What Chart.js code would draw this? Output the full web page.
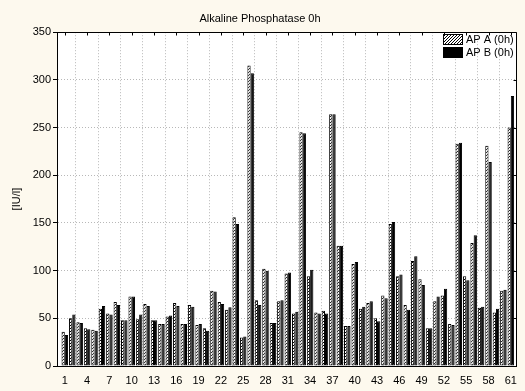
<!DOCTYPE html>
<html>
<head>
<meta charset="utf-8">
<script src="https://cdn.jsdelivr.net/npm/chart.js@4.4.1/dist/chart.umd.min.js"></script>
<style>
  html, body { margin: 0; padding: 0; background: #fdf9ee; }
  #wrap { width: 525px; height: 391px; }
</style>
</head>
<body>
<div id="wrap"><canvas id="chart" width="525" height="391"></canvas></div>
<script>
// ── Data ─────────────────────────────────────────────────────────────────────
const categories = [
  1, 2, 3, 4, 5, 6, 7, 8, 9, 10, 11, 12, 13, 14, 15, 16, 17, 18, 19, 20,
  21, 22, 23, 24, 25, 26, 27, 28, 29, 30, 31, 32, 33, 34, 35, 36, 37, 38, 39, 40,
  41, 42, 43, 44, 45, 46, 47, 48, 49, 50, 51, 52, 53, 54, 55, 56, 57, 58, 59, 60, 61
];
const apA = [
  36, 50, 46, 39.5, 38, 60, 55, 67, 48, 73, 49, 65, 48, 44, 52, 66, 44, 64, 43, 39.5,
  79, 67, 59, 156, 30, 315, 69, 102, 45, 68, 97, 55, 245, 94, 56, 58, 264, 126, 42, 107,
  60, 66, 50, 74, 149, 94, 64, 110, 91, 39.5, 68, 74, 44, 233, 94, 129, 61, 231, 56, 79, 250
];
const apB = [
  32.5, 54, 45, 38.5, 37, 63, 54, 64, 48, 73, 54, 63, 48, 44, 53, 63, 44, 62, 44, 37,
  78, 65, 61.5, 149, 31, 307, 64, 100, 45, 69, 98, 57, 244, 101, 55, 55, 264, 126, 42, 109,
  62, 68, 47, 71, 151, 96, 59, 115, 85, 39.5, 73, 81, 43, 234, 90, 137, 62, 214, 60, 80, 283
];
const xTicks = [1, 4, 7, 10, 13, 16, 19, 22, 25, 28, 31, 34, 37, 40, 43, 46, 49, 52, 55, 58, 61];
const yTicks = [0, 50, 100, 150, 200, 250, 300, 350];

const FONT = { family: "'Liberation Sans', Arial, sans-serif", size: 11, weight: "normal" };
Chart.defaults.font.family = FONT.family;
Chart.defaults.color = "#000";

function makeHatch() {
  const c = document.createElement("canvas");
  c.width = 3;
  c.height = 3;
  const g = c.getContext("2d");
  g.fillStyle = "#fff";
  g.fillRect(0, 0, 3, 3);
  g.strokeStyle = "#000";
  g.lineWidth = 1;
  g.beginPath();
  g.moveTo(0, 3); g.lineTo(3, 0);
  g.moveTo(-1, 1); g.lineTo(1, -1);
  g.moveTo(2, 4); g.lineTo(4, 2);
  g.stroke();
  return g.createPattern(c, "repeat");
}

// white plot area, closed frame with inward ticks, legend inside top-right
const framePlugin = {
  id: "frame",
  beforeDraw(chart) {
    const { ctx, chartArea: a } = chart;
    ctx.save();
    ctx.fillStyle = "#fff";
    ctx.fillRect(a.left, a.top, a.right - a.left, a.bottom - a.top);
    ctx.restore();
  },
  afterDraw(chart) {
    const { ctx, chartArea: a, scales: { x, y } } = chart;
    const px = (v) => Math.round(v) + 0.5;
    ctx.save();
    ctx.strokeStyle = "#000";
    ctx.lineWidth = 1;
    ctx.beginPath();
    ctx.moveTo(px(a.left), px(a.top));
    ctx.lineTo(px(a.right), px(a.top));
    ctx.lineTo(px(a.right), px(a.bottom));
    for (const v of xTicks) {
      const p = px(x.getPixelForValue(v));
      ctx.moveTo(p, px(a.top));
      ctx.lineTo(p, px(a.top) + 3);
    }
    for (const v of yTicks) {
      const p = px(y.getPixelForValue(v));
      ctx.moveTo(px(a.right), p);
      ctx.lineTo(px(a.right) - 3, p);
    }
    ctx.stroke();

    // legend
    ctx.font = `${FONT.size}px ${FONT.family}`;
    ctx.textBaseline = "middle";
    ctx.textAlign = "left";
    chart.data.datasets.forEach((ds, i) => {
      const sx = Math.round(a.right) - 73;
      const sy = Math.round(a.top) + 2 + i * 13;
      ctx.fillStyle = ds.backgroundColor;
      ctx.fillRect(sx, sy, 19, 10);
      ctx.strokeRect(sx + 0.5, sy + 0.5, 19, 10);
      ctx.fillStyle = "#000";
      ctx.fillText(ds.label, sx + 23, sy + 6);
    });
    ctx.restore();
  },
};

const hatch = makeHatch();

new Chart(document.getElementById("chart"), {
  type: "bar",
  data: {
    datasets: [
      {
        label: "AP A (0h)",
        data: categories.map((c, i) => ({ x: c, y: apA[i] })),
        backgroundColor: hatch,
        borderColor: "#000",
        borderWidth: 1,
        borderSkipped: false,
        categoryPercentage: 0.88,
        barPercentage: 1.0,
      },
      {
        label: "AP B (0h)",
        data: categories.map((c, i) => ({ x: c, y: apB[i] })),
        backgroundColor: "#000",
        borderColor: "#000",
        borderWidth: 1,
        borderSkipped: false,
        categoryPercentage: 0.88,
        barPercentage: 1.0,
      },
    ],
  },
  options: {
    responsive: false,
    animation: false,
    layout: { padding: { left: 0, right: 5, top: 0, bottom: 0 } },
    plugins: {
      legend: { display: false },
      tooltip: { enabled: false },
      title: {
        display: true,
        text: "Alkaline Phosphatase 0h",
        color: "#000",
        font: FONT,
        padding: { top: 12, bottom: 7 },
      },
    },
    scales: {
      x: {
        type: "linear",
        min: -0.05,
        max: 61.7,
        offset: false,
        afterBuildTicks: (s) => { s.ticks = xTicks.map((v) => ({ value: v })); },
        afterFit: (s) => { s.height = 25; },
        grid: { color: "#b8b8b8", drawTicks: false },
        border: { display: true, color: "#000", width: 1, dash: [1, 2] },
        ticks: { color: "#000", font: FONT, padding: 8, maxRotation: 0, autoSkip: false, callback: (v) => String(v) },
      },
      y: {
        min: 0,
        max: 350,
        afterBuildTicks: (s) => { s.ticks = yTicks.map((v) => ({ value: v })); },
        afterFit: (s) => { s.width = 57; },
        grid: { color: "#b8b8b8", tickColor: "#000", tickLength: 4 },
        border: { display: true, color: "#000", width: 1, dash: [1, 2] },
        ticks: { color: "#000", font: FONT, padding: 2 },
        title: { display: true, text: "[IU/l]", color: "#000", font: FONT, padding: { top: 10, bottom: 0 } },
      },
    },
  },
  plugins: [framePlugin],
});
</script>
</body>
</html>
